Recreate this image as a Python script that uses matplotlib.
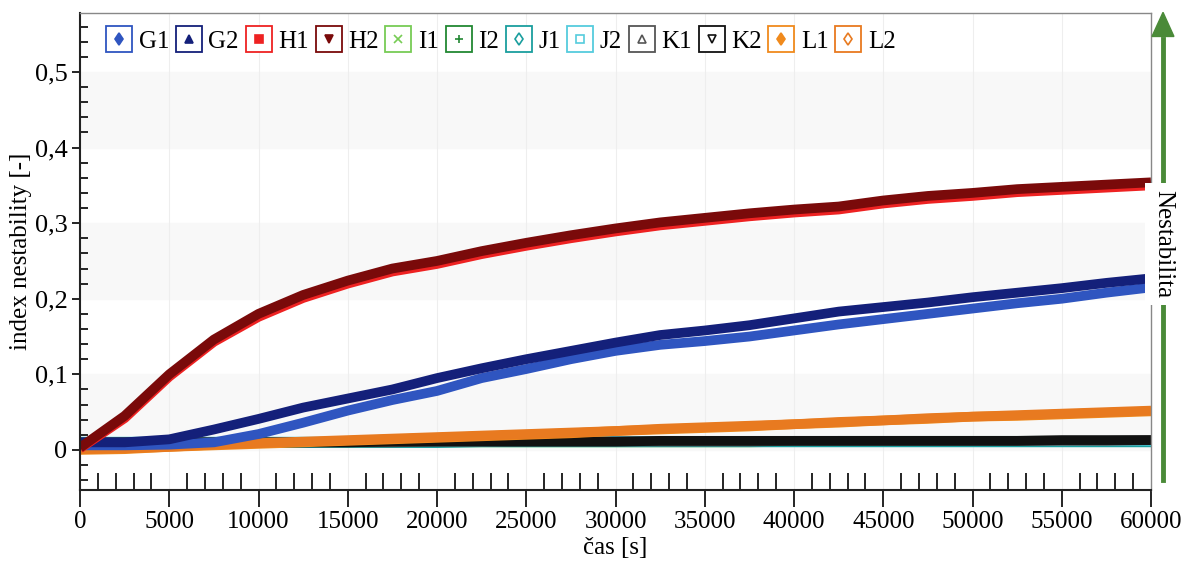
import numpy as np
import matplotlib.pyplot as plt
from matplotlib.lines import Line2D
from matplotlib.legend_handler import HandlerTuple
from matplotlib.ticker import MultipleLocator, FuncFormatter

plt.rcParams['font.family'] = ['Liberation Serif', 'DejaVu Serif']

# time axis [s]
cas = [0, 2500, 5000, 7500, 10000, 12500, 15000, 17500, 20000, 22500, 25000, 27500, 30000,
       32500, 35000, 37500, 40000, 42500, 45000, 47500, 50000, 52500, 55000, 57500, 60000]

G1 = [0.006, 0.006, 0.007, 0.010, 0.021, 0.036, 0.052, 0.066, 0.078, 0.095, 0.107, 0.120, 0.131,
      0.139, 0.144, 0.150, 0.158, 0.166, 0.173, 0.180, 0.187, 0.194, 0.200, 0.208, 0.215]
G2 = [0.010, 0.010, 0.014, 0.027, 0.041, 0.056, 0.068, 0.080, 0.095, 0.108, 0.120, 0.131, 0.142,
      0.152, 0.158, 0.165, 0.174, 0.183, 0.189, 0.195, 0.202, 0.208, 0.214, 0.221, 0.227]
H1 = [0.002, 0.042, 0.097, 0.143, 0.176, 0.201, 0.220, 0.236, 0.246, 0.259, 0.270, 0.280, 0.289,
      0.297, 0.303, 0.309, 0.314, 0.318, 0.326, 0.332, 0.336, 0.341, 0.344, 0.347, 0.350]
H2 = [0.003, 0.045, 0.100, 0.146, 0.180, 0.205, 0.224, 0.240, 0.250, 0.263, 0.274, 0.284, 0.293,
      0.301, 0.307, 0.313, 0.318, 0.322, 0.330, 0.336, 0.340, 0.345, 0.348, 0.351, 0.354]
I1 = [0.008, 0.008, 0.009, 0.009, 0.009, 0.009, 0.010, 0.010, 0.010, 0.010, 0.010, 0.010, 0.010,
      0.010, 0.010, 0.010, 0.011, 0.011, 0.011, 0.011, 0.011, 0.011, 0.011, 0.011, 0.011]
I2 = [0.009, 0.009, 0.009, 0.010, 0.010, 0.010, 0.010, 0.010, 0.011, 0.011, 0.011, 0.011, 0.011,
      0.011, 0.011, 0.011, 0.011, 0.012, 0.012, 0.012, 0.012, 0.012, 0.012, 0.012, 0.012]
J1 = [0.010, 0.010, 0.010, 0.009, 0.009, 0.009, 0.009, 0.009, 0.009, 0.010, 0.010, 0.010, 0.010,
      0.010, 0.010, 0.010, 0.010, 0.010, 0.010, 0.010, 0.010, 0.010, 0.010, 0.010, 0.010]
J2 = [0.011, 0.011, 0.011, 0.011, 0.011, 0.011, 0.011, 0.011, 0.011, 0.011, 0.012, 0.012, 0.012,
      0.012, 0.012, 0.012, 0.012, 0.012, 0.012, 0.012, 0.012, 0.012, 0.012, 0.012, 0.012]
K1 = [0.009, 0.010, 0.010, 0.010, 0.010, 0.010, 0.010, 0.010, 0.011, 0.011, 0.011, 0.011, 0.011,
      0.011, 0.011, 0.011, 0.012, 0.012, 0.012, 0.012, 0.012, 0.012, 0.012, 0.012, 0.013]
K2 = [0.010, 0.010, 0.010, 0.010, 0.010, 0.010, 0.010, 0.011, 0.011, 0.011, 0.011, 0.011, 0.011,
      0.012, 0.012, 0.012, 0.012, 0.012, 0.012, 0.012, 0.012, 0.012, 0.013, 0.013, 0.013]
L1 = [0.000, 0.001, 0.004, 0.006, 0.008, 0.010, 0.012, 0.014, 0.016, 0.018, 0.020, 0.022, 0.025,
      0.027, 0.029, 0.031, 0.034, 0.036, 0.039, 0.041, 0.044, 0.045, 0.047, 0.049, 0.051]
L2 = [0.001, 0.002, 0.004, 0.007, 0.009, 0.011, 0.013, 0.015, 0.017, 0.019, 0.021, 0.023, 0.025,
      0.028, 0.030, 0.032, 0.034, 0.037, 0.039, 0.042, 0.044, 0.046, 0.048, 0.050, 0.052]

names = ['G1', 'G2', 'H1', 'H2', 'I1', 'I2', 'J1', 'J2', 'K1', 'K2', 'L1', 'L2']
series = [G1, G2, H1, H2, I1, I2, J1, J2, K1, K2, L1, L2]
colors = ['#2f55c0', '#14207a', '#ee2222', '#7a0a0a', '#77cc55', '#228833', '#1a9e9e', '#55ccdd',
          '#555555', '#111111', '#f08a1c', '#e87a20']
markers = ['d', '^', 's', 'v', 'x', '+', 'd', 's', '^', 'v', 'd', 'd']
filled = [True, True, True, True, True, True, False, False, False, False, True, False]
# draw order so the picture overlaps like the original
order = [4, 5, 6, 7, 8, 9, 10, 11, 0, 1, 2, 3]

fig = plt.figure(figsize=(11.87, 5.61), dpi=100)
ax = fig.add_axes([0.0674, 0.1266, 0.9023, 0.8502])

ymin, ymax = -0.053, 0.578
# light alternating bands
for lo in [0.0, 0.2, 0.4]:
    ax.axhspan(lo, lo + 0.1, color='#f8f8f8', zorder=0)
for xv in range(5000, 60000, 5000):
    ax.axvline(xv, color='#eeeeee', lw=0.8, zorder=0)

for i in order:
    ax.plot(cas, series[i], color=colors[i], lw=7, solid_capstyle='butt', zorder=2)

ax.set_xlim(0, 60000)
ax.set_ylim(ymin, ymax)
ax.xaxis.set_major_locator(MultipleLocator(5000))
ax.xaxis.set_minor_locator(MultipleLocator(1000))
ax.yaxis.set_major_locator(MultipleLocator(0.1))
ax.yaxis.set_minor_locator(MultipleLocator(0.02))
ax.yaxis.set_major_formatter(FuncFormatter(lambda v, p: '0' if abs(v) < 1e-9 else f'{v:.1f}'.replace('.', ',')))
ax.tick_params(axis='x', which='major', direction='out', length=12, width=1.2, labelsize=18, pad=3)
ax.tick_params(axis='x', which='minor', direction='in', length=12, width=1.2)
ax.tick_params(axis='y', which='major', direction='out', length=6, width=1.2, labelsize=19, pad=3)
ax.tick_params(axis='y', which='minor', direction='in', length=6, width=1.2)

for s in ['left', 'bottom']:
    ax.spines[s].set_color('#222222')
    ax.spines[s].set_linewidth(1.5)
for s in ['top', 'right']:
    ax.spines[s].set_color('#888888')
    ax.spines[s].set_linewidth(1.0)

ax.set_xlabel('čas [s]', fontsize=18, labelpad=3)
ax.set_ylabel('index nestability [-]', fontsize=18, labelpad=2)

# legend: marker inside a coloured square box
handles = []
for i in range(12):
    box = Line2D([], [], ls='', marker='s', ms=19, mfc='white', mec=colors[i], mew=1.3)
    fc = colors[i] if filled[i] else 'white'
    inner = Line2D([], [], ls='', marker=markers[i], ms=6, mfc=fc, mec=colors[i], mew=1.2)
    handles.append((box, inner))
ax.legend(handles, names, handler_map={tuple: HandlerTuple(ndivide=1, pad=0)}, ncol=12,
          loc='upper left', bbox_to_anchor=(0.008, 1.0), frameon=False, fontsize=18,
          handlelength=1.05, handletextpad=0.25, columnspacing=0.27, borderaxespad=0.3)

# green "Nestabilita" arrow at the right
green = '#4a8a38'
fig.add_artist(plt.Line2D([0.9798, 0.9798], [0.145, 0.93], transform=fig.transFigure,
                          color=green, lw=3.5))
fig.add_artist(plt.Polygon([[0.9705, 0.935], [0.989, 0.935], [0.9798, 0.978]],
                           closed=True, transform=fig.transFigure, color=green))
fig.text(0.9798, 0.565, 'Nestabilita', rotation=-90, ha='center', va='center', fontsize=18,
         bbox=dict(facecolor='white', edgecolor='none', pad=5))

fig.savefig('out.png', dpi=100)
